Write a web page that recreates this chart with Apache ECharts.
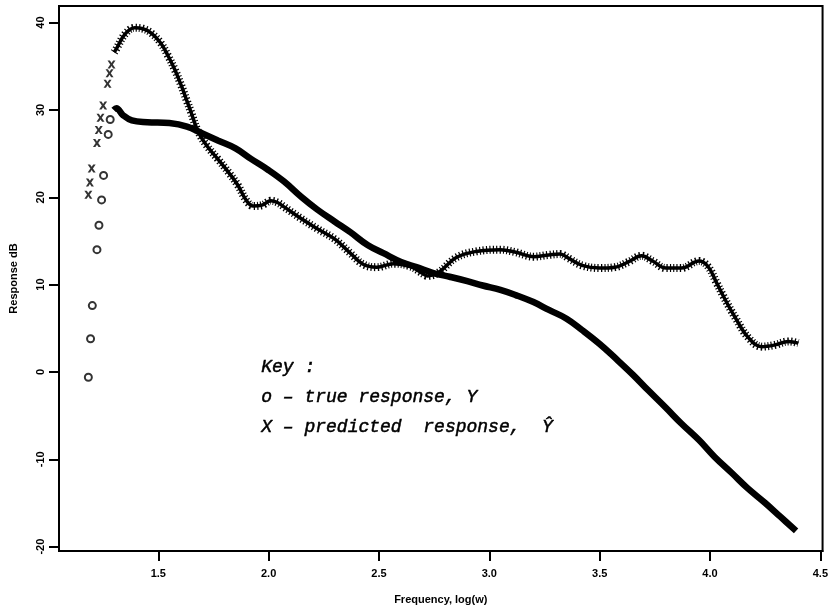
<!DOCTYPE html>
<html>
<head>
<meta charset="utf-8">
<script src="https://cdn.jsdelivr.net/npm/echarts@6/dist/echarts.min.js"></script>
<style>
html,body{margin:0;padding:0;background:#fff;}
#chart{width:831px;height:610px;}
</style>
</head>
<body>
<div id="chart"></div>
<script>
// x-axis tick values (log frequency)
var xTicks = [1.5, 2.0, 2.5, 3.0, 3.5, 4.0, 4.5];
// y-axis tick values (dB)
var yTicks = [-20, -10, 0, 10, 20, 30, 40];

// true response Y: sparse low-frequency circles
var trueSparse = [
  [1.183, -0.6], [1.193, 3.8], [1.201, 7.6], [1.222, 14.0], [1.231, 16.8],
  [1.243, 19.7], [1.252, 22.5], [1.273, 27.2], [1.282, 28.9]
];
// true response Y: dense part
var trueDense = [
  [1.298, 30.0], [1.31, 30.2], [1.34, 29.4], [1.38, 28.8], [1.45, 28.6], [1.55, 28.5],
  [1.63, 28.1], [1.70, 27.3], [1.77, 26.5], [1.85, 25.6], [1.92, 24.4],
  [2.00, 23.1], [2.07, 21.8], [2.15, 20.0], [2.22, 18.6], [2.30, 17.2],
  [2.37, 16.0], [2.45, 14.5], [2.52, 13.6], [2.60, 12.6], [2.67, 12.0],
  [2.75, 11.3], [2.82, 10.9], [2.90, 10.4], [2.97, 9.9], [3.05, 9.4],
  [3.12, 8.8], [3.20, 8.0], [3.27, 7.1], [3.35, 6.1], [3.42, 4.8],
  [3.50, 3.2], [3.57, 1.6], [3.65, -0.3], [3.72, -2.1], [3.80, -4.1],
  [3.87, -5.9], [3.95, -7.8], [4.02, -9.7], [4.10, -11.6], [4.17, -13.3],
  [4.25, -15.0], [4.32, -16.6], [4.39, -18.2]
];
// predicted response: sparse low-frequency crosses
var predSparse = [
  [1.183, 20.3], [1.19, 21.7], [1.198, 23.3], [1.222, 26.2], [1.23, 27.7],
  [1.238, 29.1], [1.25, 30.5], [1.27, 33.0], [1.279, 34.2], [1.288, 35.2]
];
// predicted response: dense part
var predDense = [
  [1.30, 36.6], [1.31, 37.0], [1.35, 38.7], [1.393, 39.4], [1.43, 39.3], [1.468, 38.8],
  [1.51, 37.7], [1.544, 36.2], [1.575, 34.6], [1.604, 32.8], [1.63, 31.0],
  [1.649, 29.7], [1.679, 27.6], [1.72, 25.9], [1.769, 24.4], [1.82, 22.8],
  [1.86, 21.4], [1.90, 19.6], [1.93, 19.0], [1.97, 19.1], [2.01, 19.6],
  [2.04, 19.4], [2.07, 18.9], [2.145, 17.6], [2.22, 16.4], [2.30, 15.2],
  [2.37, 13.6], [2.43, 12.3], [2.49, 12.0], [2.566, 12.4], [2.64, 12.1],
  [2.69, 11.4], [2.72, 11.0], [2.77, 11.4], [2.85, 13.1], [2.94, 13.8],
  [3.05, 14.0], [3.12, 13.7], [3.20, 13.2], [3.27, 13.4], [3.32, 13.5],
  [3.36, 13.0], [3.42, 12.2], [3.50, 11.9], [3.57, 12.0], [3.63, 12.6],
  [3.69, 13.3], [3.74, 12.7], [3.80, 11.9], [3.87, 11.9], [3.95, 12.7],
  [3.99, 12.1], [4.03, 10.2], [4.06, 8.7], [4.115, 6.2], [4.175, 3.9],
  [4.235, 2.9], [4.295, 3.1], [4.355, 3.5], [4.40, 3.3]
];
// key text lines
var keyLines = ['Key :', 'o \u2013 true response, Y', 'X \u2013 predicted  response,  \u0176'];

var crossPath = 'path://M0,0 L3,0 L5,3 L7,0 L10,0 L6.6,5 L10,10 L7,10 L5,7 L3,10 L0,10 L3.4,5 Z';

var chart = echarts.init(document.getElementById('chart'), null, {renderer: 'canvas'});
var axisFont = {fontFamily: 'Liberation Sans, Arial, sans-serif', fontWeight: 'bold', fontSize: 11, color: '#000'};

chart.setOption({
  animation: false,
  backgroundColor: '#fff',
  grid: {left: 58, right: 6, top: 6, bottom: 57, show: true, borderColor: '#000', borderWidth: 2, backgroundColor: 'transparent'},
  xAxis: {
    type: 'value', min: 1.05, max: 4.51,
    name: 'Frequency, log(w)', nameLocation: 'middle', nameGap: 43,
    nameTextStyle: axisFont,
    axisLine: {show: true, onZero: false, lineStyle: {color: '#000', width: 2}},
    axisTick: {show: true, length: 10, lineStyle: {color: '#000', width: 2}, customValues: xTicks},
    axisLabel: {show: true, margin: 17, customValues: xTicks, formatter: function (v) { return v.toFixed(1); },
      fontFamily: axisFont.fontFamily, fontWeight: 'bold', fontSize: 11, color: '#000'},
    splitLine: {show: false}
  },
  yAxis: {
    type: 'value', min: -20.5, max: 41.9,
    name: 'Response dB', nameLocation: 'middle', nameGap: 40, nameRotate: 90,
    nameTextStyle: axisFont,
    axisLine: {show: true, onZero: false, lineStyle: {color: '#000', width: 2}},
    axisTick: {show: true, length: 10, lineStyle: {color: '#000', width: 2}, customValues: yTicks},
    axisLabel: {show: true, margin: 13, rotate: 90, align: 'center', verticalAlign: 'bottom', customValues: yTicks,
      fontFamily: axisFont.fontFamily, fontWeight: 'bold', fontSize: 11, color: '#000'},
    splitLine: {show: false}
  },
  graphic: keyLines.map(function (t, i) {
    return {type: 'text', left: 261, top: 358 + i * 30,
      style: {text: t, font: 'italic 18px "Liberation Mono"', fill: '#000', stroke: '#000', lineWidth: 0.5}};
  }),
  series: [
    {type: 'line', data: trueDense, smooth: 0.4, showSymbol: false, symbol: 'none',
      lineStyle: {color: '#000', width: 6.5}, z: 3},
    {type: 'scatter', data: trueSparse, symbol: 'emptyCircle', symbolSize: 7,
      itemStyle: {color: '#000', borderColor: '#000', borderWidth: 2}, z: 4},
    {type: 'line', data: predDense, smooth: 0.4, showSymbol: false, symbol: 'none',
      lineStyle: {color: '#000', width: 3.5}, z: 3},
    {type: 'line', data: predDense, smooth: 0.4, showSymbol: false, symbol: 'none',
      lineStyle: {color: '#000', width: 8, type: [1.2, 2.2]}, z: 3},
    {type: 'scatter', data: predSparse, symbol: crossPath, symbolSize: [8, 8],
      itemStyle: {color: '#000'}, z: 4}
  ]
});
</script>
</body>
</html>
